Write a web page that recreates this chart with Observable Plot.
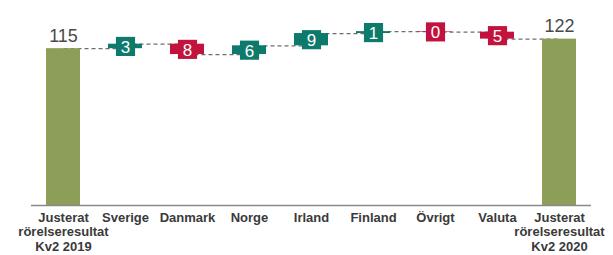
<!DOCTYPE html>
<html>
<head>
<meta charset="utf-8">
<script src="https://cdn.jsdelivr.net/npm/d3@7"></script>
<script src="https://cdn.jsdelivr.net/npm/@observablehq/plot@0.6"></script>
<style>
  html, body { margin: 0; padding: 0; background: #fff; }
  #chart svg { display: block; }
</style>
</head>
<body>
<div id="chart"></div>
<script>
// ---- data ----
const categories = [
  "Justerat\nrörelseresultat\nKv2 2019",
  "Sverige", "Danmark", "Norge", "Irland", "Finland", "Övrigt", "Valuta",
  "Justerat\nrörelseresultat\nKv2 2020"
];
const startValue = 115;
const endValue = 122;
const changes = [3.3, -7.6, 6.4, 9.0, 1.4, -0.4, -5.1];
const changeLabels = ["3", "8", "6", "9", "1", "0", "5"];

// ---- derived rows ----
const colors = {total: "#8d9e59", up: "#0d7a6b", down: "#c2133f"};
const rows = [];
rows.push({cat: categories[0], y1: 0, y2: startValue, kind: "total", label: String(startValue)});
let run = startValue;
changes.forEach((c, i) => {
  rows.push({cat: categories[i + 1], y1: run, y2: run + c, kind: c >= 0 ? "up" : "down", label: changeLabels[i]});
  run += c;
});
rows.push({cat: categories[categories.length - 1], y1: 0, y2: endValue, kind: "total", label: String(endValue)});
rows.forEach(r => r.mid = (r.y1 + r.y2) / 2);

const links = [];
for (let i = 0; i < rows.length - 1; i++) {
  links.push({a: rows[i].cat, b: rows[i + 1].cat, y: rows[i].y2});
}
const totals = rows.filter(r => r.kind === "total");
const deltas = rows.filter(r => r.kind !== "total");

const chart = Plot.plot({
  width: 613,
  height: 255,
  marginTop: 10,
  marginBottom: 50,
  marginLeft: 31,
  marginRight: 22,
  style: {fontFamily: "'Liberation Sans', Arial, sans-serif", background: "#fff"},
  x: {domain: categories, paddingInner: 0.45, paddingOuter: 0.225, label: null},
  y: {domain: [0, 143], axis: null},
  marks: [
    Plot.link(links, {x1: "a", x2: "b", y1: "y", y2: "y", stroke: "#6f6f6f", strokeWidth: 1.2, strokeDasharray: "4,3"}),
    Plot.barY(rows, {x: "cat", y1: "y1", y2: "y2", fill: d => colors[d.kind]}),
    Plot.ruleY([0], {stroke: "#8a8a8a", strokeWidth: 1.5}),
    Plot.dot(deltas, {x: "cat", y: "mid", symbol: "square", r: 10.8, fill: d => colors[d.kind], stroke: "none"}),
    Plot.text(deltas, {x: "cat", y: "mid", text: "label", fill: "#ffffff", fontSize: 17, dy: 1}),
    Plot.text(totals, {x: "cat", y: "y2", text: "label", fill: "#4a4a4a", fontSize: 18, lineAnchor: "bottom", dy: -7}),
    Plot.axisX({tickSize: 0, tickPadding: 6, fontSize: 13, fontWeight: "bold", lineHeight: 1.12, fill: "#3a3a3a", tickFormat: d => d})
  ]
});
document.getElementById("chart").appendChild(chart);
</script>
</body>
</html>
